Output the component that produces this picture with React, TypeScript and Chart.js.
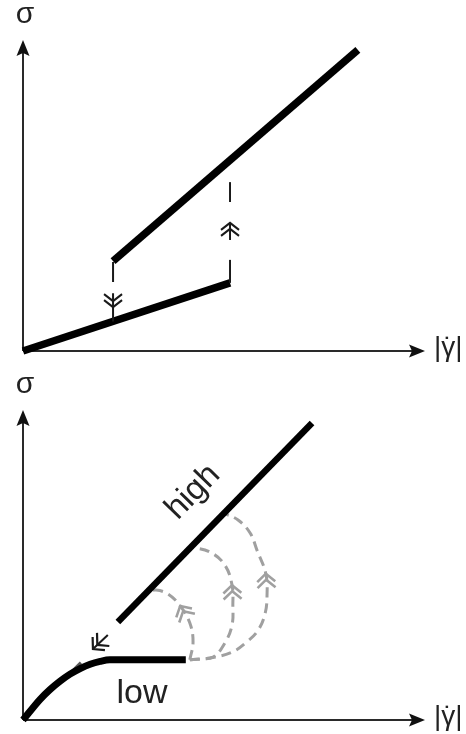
import { useEffect, useRef } from "react";
import { Chart, registerables } from "chart.js";

Chart.register(...registerables);

type Pt = [number, number];
type Head = { tip: Pt; from: Pt; color: string; back: number; half: number; width: number };
type Label = { text: string; at: Pt; size: number; alongLine?: Pt[]; lift?: number; align?: CanvasTextAlign };

const INK = "#1a1a1a";
const GREY = "#a0a0a0";
const FONT = '"Liberation Sans", Arial, sans-serif';

// both axes run from 0 to this value
const AXIS_MAX = 100;
const Y_TITLE = "σ";
// shear-rate title: bars around gamma, with an overdot on the gamma
const X_TITLE_BAR = "|";
const X_TITLE_SYMBOL = "γ";
const X_TITLE_DOT = "˙";

// ---- upper diagram: two straight flow branches ----
const upperLowBranch: Pt[] = [[0, 0], [51.5, 21.9]];
const upperHighBranch: Pt[] = [[22.4, 28.9], [83.3, 96.8]];
// drop from the start of the high branch to the low branch (broken line)
const upperDropPieces: Pt[][] = [
  [[22.4, 28.6], [22.4, 22.2]],
  [[22.4, 18.6], [22.4, 9.5]],
];
// rise from the end of the low branch toward the high branch (broken line)
const upperRisePieces: Pt[][] = [
  [[51.5, 21.9], [51.5, 29.3]],
  [[51.5, 35.7], [51.5, 41.2]],
  [[51.5, 47.9], [51.5, 54.3]],
];
const upperHeadTips: Pt[] = [[22.4, 14.1], [51.5, 41.2]];
const upperHeadFrom: Pt[] = [[22.4, 18.6], [51.5, 35.7]];

// ---- lower diagram: curved low branch, straight high branch, transitions ----
const lowerLowBranch: Pt[] = [
  [0, 0], [4.2, 6.6], [6.7, 9.8], [9.2, 12.5], [11.7, 14.8], [14.2, 16.6],
  [16.7, 18.0], [19.2, 18.9], [21.6, 19.4], [40.5, 19.4],
];
const lowerHighBranch: Pt[] = [[23.6, 31.6], [71.9, 95.8]];
const lowerReturnStem: Pt[] = [[21.1, 27.4], [17.4, 22.9]];
const lowerReturnTick: Pt[] = [[11.9, 15.3], [14.4, 18.5]];
const lowerBranchMark: Pt[] = [[25.9, 34.5], [27.6, 36.8]];

// grey transition paths from the end of the low branch up to the high branch
const pathA: Pt[] = [
  [41.5, 19.4], [42.3, 25.2], [41.5, 31.3], [39.1, 36.8], [36.1, 40.6], [33.1, 41.9], [30.8, 41.3],
];
const pathB: Pt[] = [
  [41.5, 19.4], [44.0, 19.7], [47.3, 20.3], [50.2, 24.8], [52.0, 30.6], [52.2, 37.1],
  [52.0, 43.5], [50.2, 50.0], [46.5, 54.2], [42.0, 55.8],
];
const pathC: Pt[] = [
  [41.5, 19.4], [46.5, 20.0], [52.0, 21.9], [55.7, 25.2], [58.5, 29.0], [60.2, 34.2],
  [60.7, 40.0], [60.4, 47.2], [58.2, 54.8], [56.5, 60.3], [53.5, 64.5], [49.8, 66.8],
];
// index of the point on each path that carries an arrowhead
const pathHeadIndex = [3, 6, 7];

const highLabelAt: Pt = [42.3, 73.5];
const lowLabelAt: Pt = [29.6, 5.5];

function line(points: Pt[], color: string, width: number, extra: Record<string, unknown> = {}) {
  return {
    data: points.map(([x, y]) => ({ x, y })),
    showLine: true,
    borderColor: color,
    backgroundColor: color,
    borderWidth: width,
    borderCapStyle: "butt",
    pointRadius: 0,
    pointHoverRadius: 0,
    fill: false,
    clip: false,
    ...extra,
  };
}

function upperDatasets() {
  return [
    ...upperDropPieces.map((p) => line(p, INK, 2)),
    ...upperRisePieces.map((p) => line(p, INK, 2)),
    line(upperLowBranch, "#000", 7.5),
    line(upperHighBranch, "#000", 7.5),
  ];
}

function lowerDatasets() {
  return [
    line(lowerLowBranch, "#000", 7, { cubicInterpolationMode: "monotone" }),
    line(lowerHighBranch, "#000", 6.5),
    line(lowerBranchMark, "#555", 4),
    line(lowerReturnStem, INK, 2),
    line(lowerReturnTick, "#555", 3),
    ...[pathA, pathB, pathC].map((p) =>
      line(p, GREY, 3, { tension: 0.4, borderDash: [10, 6] })
    ),
  ];
}

function upperHeads(): Head[] {
  return upperHeadTips.map((tip, i) => ({
    tip, from: upperHeadFrom[i], color: INK, back: 7, half: 9, width: 2,
  }));
}

function lowerHeads(): Head[] {
  const heads: Head[] = [
    { tip: lowerReturnStem[1], from: lowerReturnStem[0], color: INK, back: 8, half: 9, width: 2.2 },
  ];
  [pathA, pathB, pathC].forEach((p, i) => {
    const k = pathHeadIndex[i];
    heads.push({ tip: p[k], from: p[k - 1], color: GREY, back: 8, half: 9, width: 2.6 });
  });
  return heads;
}

function makeOverlay(heads: Head[], labels: Label[]) {
  return {
    id: "axesAndMarks",
    beforeDatasetsDraw(chart: Chart) {
      const { ctx } = chart;
      const sx = chart.scales.x;
      const sy = chart.scales.y;
      const o = { x: sx.getPixelForValue(0), y: sy.getPixelForValue(0) };
      const xe = { x: sx.getPixelForValue(AXIS_MAX), y: o.y };
      const ye = { x: o.x, y: sy.getPixelForValue(AXIS_MAX) };
      ctx.save();
      ctx.strokeStyle = "#2a2a2a";
      ctx.fillStyle = "#111";
      ctx.lineWidth = 2;
      ctx.beginPath();
      ctx.moveTo(o.x, o.y);
      ctx.lineTo(xe.x - 10, xe.y);
      ctx.moveTo(o.x, o.y);
      ctx.lineTo(ye.x, ye.y + 10);
      ctx.stroke();
      const arrow = (tip: { x: number; y: number }, dx: number, dy: number) => {
        const L = 16, w = 6.5, notch = 3;
        const nx = -dy, ny = dx;
        ctx.beginPath();
        ctx.moveTo(tip.x, tip.y);
        ctx.lineTo(tip.x - L * dx + w * nx, tip.y - L * dy + w * ny);
        ctx.lineTo(tip.x - (L - notch) * dx, tip.y - (L - notch) * dy);
        ctx.lineTo(tip.x - L * dx - w * nx, tip.y - L * dy - w * ny);
        ctx.closePath();
        ctx.fill();
      };
      arrow(xe, 1, 0);
      arrow(ye, 0, -1);
      ctx.fillStyle = "#222";
      ctx.textBaseline = "alphabetic";
      ctx.font = `30px ${FONT}`;
      ctx.textAlign = "center";
      ctx.fillText(Y_TITLE, ye.x + 2, ye.y - 17);
      // |γ| with an overdot above the gamma
      ctx.font = `28px ${FONT}`;
      ctx.textAlign = "left";
      const x0 = xe.x + 9;
      const base = xe.y + 5;
      const title = X_TITLE_BAR + X_TITLE_SYMBOL + X_TITLE_BAR;
      ctx.fillText(title, x0, base);
      const wBar = ctx.measureText(X_TITLE_BAR).width;
      const wSym = ctx.measureText(X_TITLE_SYMBOL).width;
      ctx.textAlign = "center";
      ctx.fillText(X_TITLE_DOT, x0 + wBar + wSym / 2, base + 1);
      ctx.restore();
    },
    afterDatasetsDraw(chart: Chart) {
      const { ctx } = chart;
      const sx = chart.scales.x;
      const sy = chart.scales.y;
      const toPx = (p: Pt) => ({ x: sx.getPixelForValue(p[0]), y: sy.getPixelForValue(p[1]) });
      ctx.save();
      ctx.lineCap = "butt";
      ctx.lineJoin = "miter";
      for (const h of heads) {
        const t = toPx(h.tip);
        const f = toPx(h.from);
        const len = Math.hypot(t.x - f.x, t.y - f.y) || 1;
        const dx = (t.x - f.x) / len, dy = (t.y - f.y) / len;
        const nx = -dy, ny = dx;
        ctx.strokeStyle = h.color;
        ctx.lineWidth = h.width;
        ctx.beginPath();
        for (const k of [0, 6]) {
          const vx = t.x - k * dx, vy = t.y - k * dy;
          ctx.moveTo(vx - h.back * dx + h.half * nx, vy - h.back * dy + h.half * ny);
          ctx.lineTo(vx, vy);
          ctx.lineTo(vx - h.back * dx - h.half * nx, vy - h.back * dy - h.half * ny);
        }
        ctx.stroke();
      }
      ctx.fillStyle = "#222";
      for (const lb of labels) {
        const p = toPx(lb.at);
        ctx.save();
        ctx.translate(p.x, p.y);
        if (lb.alongLine) {
          const a = toPx(lb.alongLine[0]);
          const b = toPx(lb.alongLine[lb.alongLine.length - 1]);
          ctx.rotate(Math.atan2(b.y - a.y, b.x - a.x));
        }
        ctx.font = `${lb.size}px ${FONT}`;
        ctx.textAlign = lb.align ?? "center";
        ctx.textBaseline = "alphabetic";
        ctx.fillText(lb.text, 0, lb.lift ?? 0);
        ctx.restore();
      }
      ctx.restore();
    },
  };
}

function Diagram(props: {
  height: number;
  padTop: number;
  padBottom: number;
  build: () => any[];
  heads: () => Head[];
  labels: Label[];
}) {
  const ref = useRef<HTMLCanvasElement>(null);
  useEffect(() => {
    const chart = new Chart(ref.current!, {
      type: "scatter",
      data: { datasets: props.build() as any },
      options: {
        animation: false,
        responsive: false,
        maintainAspectRatio: false,
        devicePixelRatio: 1,
        events: [],
        layout: { padding: { left: 23, right: 41, top: props.padTop, bottom: props.padBottom } },
        plugins: { legend: { display: false }, tooltip: { enabled: false } },
        scales: {
          x: { type: "linear", min: 0, max: AXIS_MAX, display: false },
          y: { type: "linear", min: 0, max: AXIS_MAX, display: false },
        },
      },
      plugins: [makeOverlay(props.heads(), props.labels) as any],
    });
    return () => chart.destroy();
  }, []);
  return (
    <canvas
      ref={ref}
      width={466}
      height={props.height}
      style={{ display: "block", width: 466, height: props.height }}
    />
  );
}

export default function App() {
  return (
    <div style={{ position: "absolute", left: 0, top: 0, width: 466, height: 734, background: "#fff" }}>
      <Diagram height={367} padTop={40} padBottom={16} build={upperDatasets} heads={upperHeads} labels={[]} />
      <Diagram
        height={367}
        padTop={43}
        padBottom={14}
        build={lowerDatasets}
        heads={lowerHeads}
        labels={[
          { text: "high", at: highLabelAt, size: 33, alongLine: lowerHighBranch, lift: 9 },
          { text: "low", at: lowLabelAt, size: 34 },
        ]}
      />
    </div>
  );
}
